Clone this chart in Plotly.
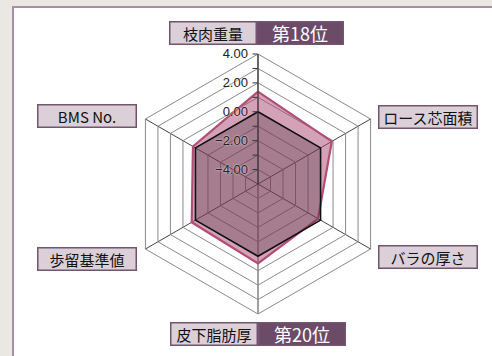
import plotly.graph_objects as go

# categories clockwise from the top
categories = ['枝肉重量', 'ロース芯面積', 'バラの厚さ', '皮下脂肪厚', '歩留基準値', 'BMS No.']
score = [1.4, 0.9, -0.2, 0.5, 0.3, 0.2]      # this animal (pink)
baseline = [0, 0, 0, 0, 0, 0]               # average line (black)
rank_top = '第18位'
rank_bottom = '第20位'
tick_vals = [-4, -3, -2, -1, 0, 1, 2, 3, 4]
tick_text = ['−4.00', '', '−2.00', '', '0.00', '', '2.00', '', '4.00']

W, H = 492, 356
cx, cy, R = 258, 184, 130  # centre and radius of the radar, pixels

fig = go.Figure()

#closing the polygons
theta = categories + categories[:1]
fig.add_trace(go.Scatterpolar(r=score + score[:1], theta=theta, mode='lines', fill='toself',
                              fillcolor='rgba(170,70,110,0.5)', line=dict(color='#b24d76', width=2.2),
                              hoverinfo='skip'))
fig.add_trace(go.Scatterpolar(r=baseline + baseline[:1], theta=theta, mode='lines', fill='toself',
                              fillcolor='rgba(60,40,50,0.3)', line=dict(color='#111111', width=1.6),
                              hoverinfo='skip'))

fig.update_layout(
    width=W, height=H, margin=dict(l=0, r=0, t=0, b=0),
    paper_bgcolor='#ebe7e3', showlegend=False,
    font=dict(family='Noto Sans CJK JP', color='#222222'),
    polar=dict(
        domain=dict(x=[(cx - R) / W, (cx + R) / W], y=[(H - cy - R) / H, (H - cy + R) / H]),
        bgcolor='rgba(0,0,0,0)',
        gridshape='linear',
        angularaxis=dict(rotation=90, direction='clockwise', showticklabels=False, ticks='',
                         gridcolor='#444444', gridwidth=1, linecolor='#8a8a8a', linewidth=1),
        radialaxis=dict(range=[-5, 4], angle=90, tickangle=90, side='counterclockwise',
                        tickvals=tick_vals, ticktext=tick_text, ticks='outside', ticklen=5,
                        tickcolor='#333333', showline=True, linecolor='#333333', linewidth=1,
                        gridcolor='#8a8a8a', gridwidth=1,
                        tickfont=dict(size=13, color='#222222', family='Liberation Sans',
                                      shadow='0px 0px 2px white')),
    ),
)

# white panel with mauve border on the left/top
fig.add_shape(type='rect', xref='paper', yref='paper', x0=13 / W, x1=1.05, y0=-0.05, y1=1 - 7 / H,
              fillcolor='white', line=dict(color='#a68ea3', width=2), layer='below')

label_fill = '#dbcfd8'
label_border = '#735570'
rank_fill = '#6c4b69'


def box(text, x, y, w, h=21, fill=label_fill, color='#111111', size=15):
    fig.add_annotation(x=x / W, y=1 - y / H, xref='paper', yref='paper', text=text, showarrow=False,
                       width=w, height=h, bgcolor=fill, bordercolor=label_border, borderwidth=1.5,
                       borderpad=0, xanchor='center', yanchor='middle',
                       font=dict(size=size, color=color, family='Noto Sans CJK JP'))


# top / bottom labels with rank boxes
box(categories[0], 212.5, 32.5, 85)
box(rank_top, 300, 32.5, 85, fill=rank_fill, color='white', size=18)
box(categories[3], 214, 334, 85)
box(rank_bottom, 302, 334, 85, fill=rank_fill, color='white', size=18)
# side labels
box(categories[1], 428, 116.5, 97)
box(categories[2], 428, 256.5, 97)
box(categories[5], 87, 116, 97)
box(categories[4], 87, 258.5, 97)

# page body has a default 8px margin, drop it so the figure sits at 0,0
fig.write_html('out.html', config={'displayModeBar': False},
               post_script="document.body.style.margin='0';")
